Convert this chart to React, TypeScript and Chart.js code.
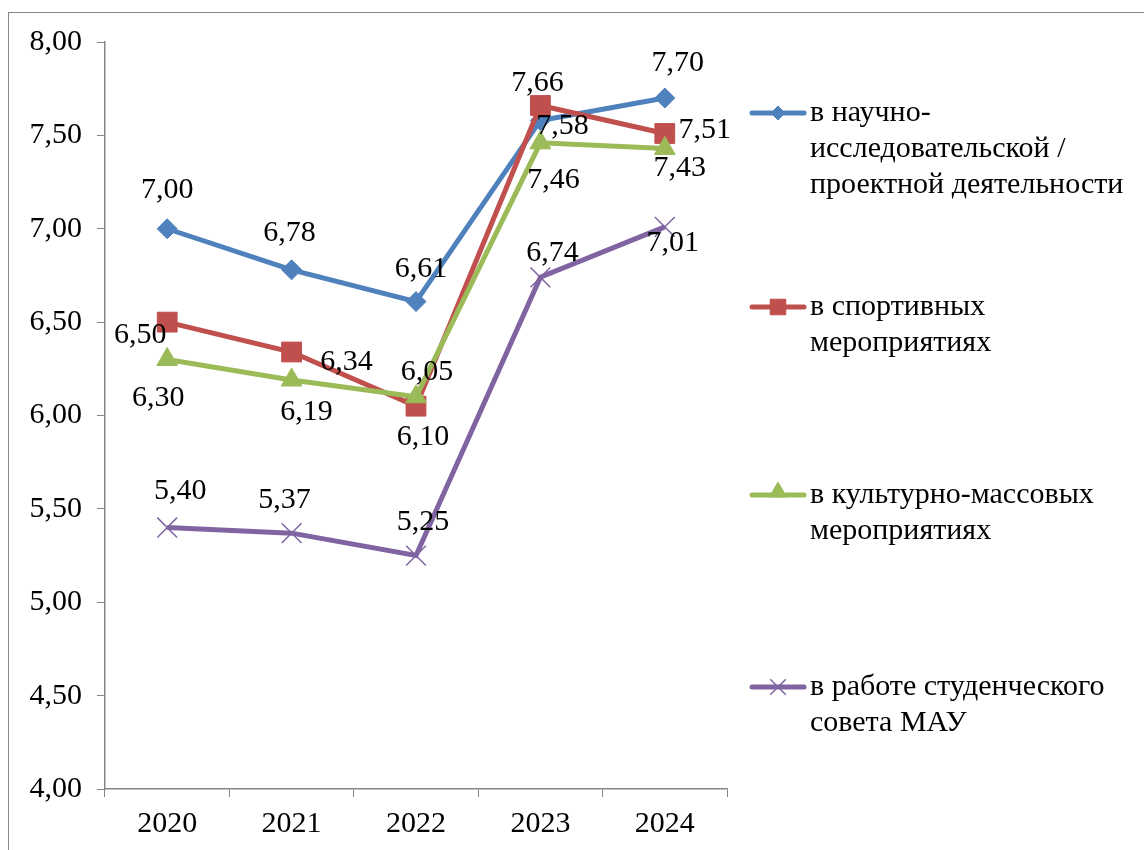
import React, { useEffect, useRef } from "react";
import { Chart, registerables } from "chart.js";
import { drawPoint } from "chart.js/helpers";

Chart.register(...registerables);

// ---- data ----
const years = ["2020", "2021", "2022", "2023", "2024"];
const research = [7.0, 6.78, 6.61, 7.58, 7.7];
const sports = [6.5, 6.34, 6.05, 7.66, 7.51];
const cultural = [6.3, 6.19, 6.1, 7.46, 7.43];
const council = [5.4, 5.37, 5.25, 6.74, 7.01];
const seriesNames = [
  ["в научно-", "исследовательской /", "проектной деятельности"],
  ["в спортивных", "мероприятиях"],
  ["в культурно-массовых", "мероприятиях"],
  ["в работе студенческого", "совета МАУ"],
];
const yMin = 4;
const yMax = 8;
const yStep = 0.5;

// ---- styles / layout (not data) ----
const FONT = "'Liberation Serif', 'Times New Roman', serif";
const FS = 30;
const AXIS = "#868686";
const colors = ["#4F81BD", "#C0504D", "#9BBB59", "#8064A2"];
const pointStyles = ["rectRot", "rect", "triangle", "crossRot"];
const pointRadii = [10, 14, 12, 14];
const legendRadii = [7, 11, 10, 11];
const labelOffsets = [
  [[0, -39], [-2, -37], [5, -32], [22, 6], [13, -35]],
  [[-27, 13], [55, 10], [11, -34], [-3, -22], [40, -3]],
  [[-9, 39], [15, 32], [7, 40], [13, 37], [15, 20]],
  [[13, -36], [-7, -33], [7, -33], [12, -24], [8, 16]],
];

const fmt = (v: number) => v.toFixed(2).replace(".", ",");

const labelsPlugin = {
  id: "pointLabels",
  afterDatasetsDraw(chart: any) {
    const ctx = chart.ctx;
    ctx.save();
    ctx.font = `${FS}px ${FONT}`;
    ctx.fillStyle = "#000";
    ctx.textAlign = "center";
    ctx.textBaseline = "middle";
    chart.data.datasets.forEach((ds: any, i: number) => {
      const meta = chart.getDatasetMeta(i);
      meta.data.forEach((pt: any, j: number) => {
        const off = labelOffsets[i][j];
        ctx.fillText(fmt(ds.data[j]), pt.x + off[0], pt.y + off[1]);
      });
    });
    ctx.restore();
  },
};

const legendPlugin = {
  id: "sideLegend",
  afterDraw(chart: any) {
    const ctx = chart.ctx;
    const area = chart.chartArea;
    const x0 = area.right + 25;
    const entryY = [100, 294, 482, 674];
    ctx.save();
    chart.data.datasets.forEach((ds: any, i: number) => {
      const y = entryY[i];
      ctx.strokeStyle = ds.borderColor;
      ctx.lineWidth = 5;
      ctx.lineCap = "round";
      ctx.beginPath();
      ctx.moveTo(x0, y);
      ctx.lineTo(x0 + 52, y);
      ctx.stroke();
      ctx.lineCap = "butt";
      ctx.fillStyle = ds.pointBackgroundColor;
      ctx.strokeStyle = ds.pointBorderColor;
      ctx.lineWidth = ds.pointBorderWidth;
      drawPoint(
        ctx,
        {
          pointStyle: ds.pointStyle,
          rotation: 0,
          radius: legendRadii[i],
          borderWidth: ds.pointBorderWidth,
        },
        x0 + 26,
        y - (ds.pointStyle === "triangle" ? 3 : 0)
      );
      ctx.fillStyle = "#000";
      ctx.font = `${FS}px ${FONT}`;
      ctx.textAlign = "left";
      ctx.textBaseline = "middle";
      seriesNames[i].forEach((line, k) => {
        ctx.fillText(line, x0 + 58, y + k * 36);
      });
    });
    ctx.restore();
  },
};

export default function App() {
  const ref = useRef<HTMLCanvasElement>(null);

  useEffect(() => {
    if (!ref.current) return;
    const series = [research, sports, cultural, council];
    const chart = new Chart(ref.current, {
      type: "line",
      data: {
        labels: years,
        datasets: series.map((d, i) => ({
          label: seriesNames[i].join(" "),
          data: d,
          borderColor: colors[i],
          backgroundColor: colors[i],
          borderWidth: 5,
          pointStyle: pointStyles[i] as any,
          pointRadius: pointRadii[i],
          pointHoverRadius: pointRadii[i],
          pointBackgroundColor: colors[i],
          pointBorderColor: colors[i],
          pointBorderWidth: i === 3 ? 1.5 : 1,
          tension: 0,
          order: 3 - i,
        })),
      },
      options: {
        animation: false,
        responsive: false,
        events: [],
        layout: { padding: { left: 0, top: 29, right: 417, bottom: 0 } },
        plugins: {
          legend: { display: false },
          tooltip: { enabled: false },
          title: { display: false },
        },
        scales: {
          x: {
            offset: true,
            grid: {
              offset: true,
              drawOnChartArea: false,
              drawTicks: true,
              tickLength: 8,
              color: AXIS,
            },
            border: { display: true, color: AXIS, width: 1.5 },
            ticks: {
              color: "#000",
              font: { family: FONT, size: FS },
              padding: 9,
              maxRotation: 0,
            },
            afterFit(scale: any) {
              scale.height = 61;
              scale.paddingLeft = 0;
              scale.paddingRight = 0;
            },
          },
          y: {
            min: yMin,
            max: yMax,
            grid: {
              drawOnChartArea: false,
              drawTicks: true,
              tickLength: 8,
              color: AXIS,
            },
            border: { display: true, color: AXIS, width: 1.5 },
            ticks: {
              stepSize: yStep,
              color: "#000",
              font: { family: FONT, size: FS },
              padding: 15,
              callback: (v: any) => fmt(Number(v)),
            },
            afterFit(scale: any) {
              scale.width = 96;
              scale.paddingTop = 0;
              scale.paddingBottom = 0;
            },
          },
        },
      },
      plugins: [labelsPlugin, legendPlugin],
    });
    return () => chart.destroy();
  }, []);

  return (
    <div
      style={{
        position: "absolute",
        left: 8,
        top: 12,
        width: 1136,
        height: 838,
        borderLeft: "1.5px solid #8a8a8a",
        borderTop: "1.5px solid #8a8a8a",
        overflow: "hidden",
        background: "#fff",
      }}
    >
      <canvas ref={ref} width={1135} height={837} style={{ display: "block" }} />
    </div>
  );
}
